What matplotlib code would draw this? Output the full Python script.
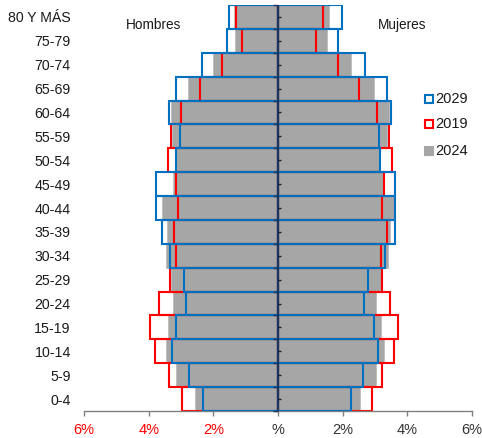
import matplotlib
matplotlib.use("Agg")
import matplotlib.pyplot as plt
import numpy as np

plt.rcParams['font.family'] = ['Liberation Sans', 'DejaVu Sans']

categories = ['0-4', '5-9', '10-14', '15-19', '20-24', '25-29', '30-34', '35-39',
              '40-44', '45-49', '50-54', '55-59', '60-64', '65-69', '70-74', '75-79',
              '80 Y MÁS']

men_2024 = [2.57, 3.14, 3.47, 3.40, 3.24, 3.32, 3.45, 3.43, 3.58, 3.26, 3.14, 3.28,
            3.32, 2.78, 2.02, 1.33, 1.35]
men_2019 = [2.98, 3.37, 3.81, 3.95, 3.67, 3.34, 3.16, 3.21, 3.09, 3.17, 3.40, 3.32,
            2.99, 2.41, 1.74, 1.12, 1.31]
men_2029 = [2.32, 2.75, 3.28, 3.16, 2.83, 2.91, 3.33, 3.60, 3.76, 3.76, 3.14, 3.02,
            3.37, 3.14, 2.36, 1.57, 1.53]

women_2024 = [2.54, 3.02, 3.28, 3.20, 3.02, 3.18, 3.39, 3.47, 3.59, 3.28, 3.16, 3.36,
              3.44, 2.97, 2.25, 1.51, 1.58]
women_2019 = [2.90, 3.23, 3.59, 3.70, 3.45, 3.23, 3.20, 3.37, 3.23, 3.28, 3.52, 3.42,
              3.06, 2.51, 1.86, 1.18, 1.39]
women_2029 = [2.25, 2.64, 3.10, 2.97, 2.66, 2.77, 3.30, 3.61, 3.63, 3.61, 3.15, 3.13,
              3.49, 3.36, 2.68, 1.85, 1.99]

xticks = [-6, -4, -2, 0, 2, 4, 6]
xtick_labels = ['6%', '4%', '2%', '%', '2%', '4%', '6%']

GRAY = '#A6A6A6'
RED = '#FF0000'
BLUE = '#0070C0'
NAVY = '#17375E'

W, H = 482, 438
fig = plt.figure(figsize=(W / 100, H / 100), dpi=100)
ax = fig.add_axes([84 / W, (H - 411) / H, (472 - 84) / W, (411 - 5) / H])

y = np.arange(len(categories))

# 2024 gray filled
ax.barh(y, -np.array(men_2024), height=1.0, color=GRAY, edgecolor='#BDBDBD', linewidth=0.6, zorder=1)
ax.barh(y, women_2024, height=1.0, color=GRAY, edgecolor='#BDBDBD', linewidth=0.6, zorder=1)
# 2019 red outline
ax.barh(y, -np.array(men_2019), height=1.0, fill=False, edgecolor=RED, linewidth=1.5, zorder=2)
ax.barh(y, women_2019, height=1.0, fill=False, edgecolor=RED, linewidth=1.5, zorder=2)
# 2029 blue outline
ax.barh(y, -np.array(men_2029), height=1.0, fill=False, edgecolor=BLUE, linewidth=1.5, zorder=3)
ax.barh(y, women_2029, height=1.0, fill=False, edgecolor=BLUE, linewidth=1.5, zorder=3)

ax.set_xlim(-6, 6)
ax.set_ylim(-0.5, len(categories) - 0.5)

# center axis line with ticks
ax.axvline(0, color=NAVY, linewidth=1.6, zorder=5)
bounds = np.arange(len(categories) + 1) - 0.5
ax.plot(np.zeros_like(bounds), bounds, linestyle='none', marker=0, markersize=3.5,
        markeredgewidth=1.0, color=NAVY, zorder=5, clip_on=False)
ax.plot(np.zeros_like(y, dtype=float), y, linestyle='none', marker=1, markersize=2.5,
        markeredgewidth=1.0, color='#222222', zorder=5)

for s in ['left', 'right', 'top']:
    ax.spines[s].set_visible(False)
ax.spines['bottom'].set_color('#808080')
ax.spines['bottom'].set_linewidth(1.0)

ax.set_yticks(y)
ax.set_yticklabels(categories, fontsize=10.2, color='#1a1a1a')
ax.tick_params(axis='y', length=0, pad=9.5)

ax.set_xticks(xticks)
ax.set_xticklabels(xtick_labels, fontsize=10.5)
ax.tick_params(axis='x', length=3.5, width=1.0, color='#808080', pad=5.5)
for lbl, v in zip(ax.get_xticklabels(), xticks):
    lbl.set_color(RED if v < 0 else '#333333')

# side titles
fig.text(126 / W, 1 - 25 / H, 'Hombres', fontsize=9.8, color='#1a1a1a', ha='left', va='center')
fig.text(378 / W, 1 - 25 / H, 'Mujeres', fontsize=9.8, color='#1a1a1a', ha='left', va='center')

# legend
leg_items = [('2029', 'white', BLUE, 99), ('2019', 'white', RED, 124), ('2024', GRAY, GRAY, 151)]
for label, fc, ec, py in leg_items:
    fig.add_artist(plt.Line2D([428.5 / W], [1 - py / H], marker='s', markersize=6,
                              markerfacecolor=fc, markeredgecolor=ec, markeredgewidth=1.5,
                              linestyle='none', transform=fig.transFigure))
    fig.text(435 / W, 1 - py / H, label, fontsize=10.5, color='#1a1a1a', ha='left', va='center')

fig.savefig('out.png', dpi=100)
